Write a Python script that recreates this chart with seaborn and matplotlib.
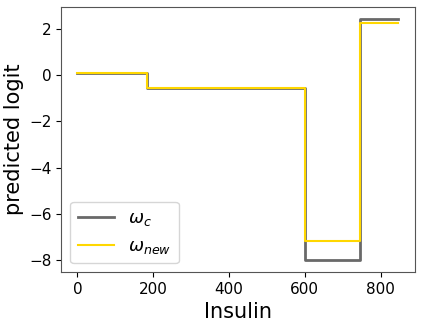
import matplotlib
matplotlib.use("Agg")
import matplotlib.pyplot as plt
import seaborn as sns
import pandas as pd

insulin = [0, 183, 600, 745, 847]
omega_c = [0.10, -0.57, -8.0, 2.42, 2.42]
omega_new = [0.10, -0.57, -7.19, 2.26, 2.26]

fig, ax = plt.subplots(figsize=(4.23, 3.24), dpi=100)
df = pd.DataFrame({"x": insulin, "c": omega_c, "n": omega_new})
sns.lineplot(data=df, x="x", y="c", ax=ax, color="dimgray", linewidth=2,
             drawstyle="steps-post", label=r"$\omega_c$")
sns.lineplot(data=df, x="x", y="n", ax=ax, color="gold", linewidth=1.5,
             drawstyle="steps-post", label=r"$\omega_{new}$")

ax.set_xlabel("Insulin", fontsize=15)
ax.set_ylabel("predicted logit", fontsize=15)
ax.set_xticks([0, 200, 400, 600, 800])
ax.set_yticks([2, 0, -2, -4, -6, -8])
ax.tick_params(labelsize=11)
for s in ax.spines.values():
    s.set_color("#555555")
ax.legend(loc="lower left", fontsize=13, handlelength=2.0)
fig.subplots_adjust(left=0.145, right=0.98, top=0.978, bottom=0.16)
fig.savefig("out.png", dpi=100)
